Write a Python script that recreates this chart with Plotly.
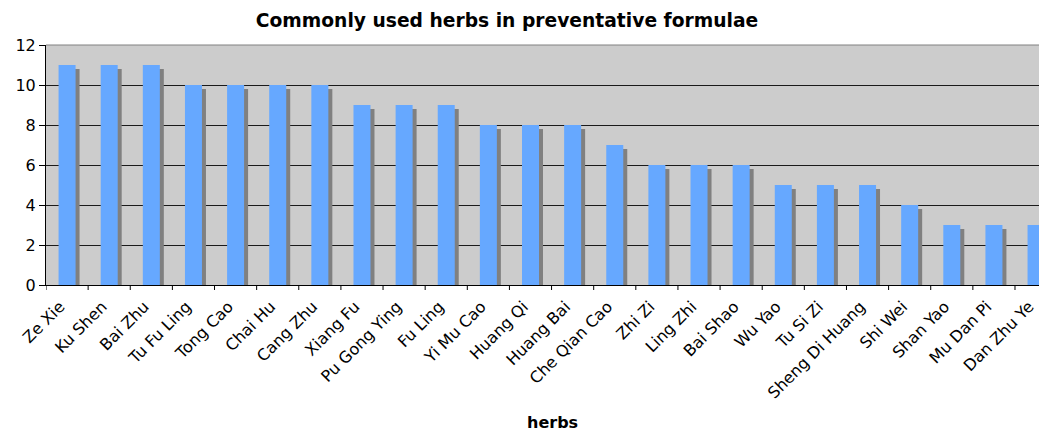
import plotly.graph_objects as go

herbs = ["Ze Xie", "Ku Shen", "Bai Zhu", "Tu Fu Ling", "Tong Cao", "Chai Hu", "Cang Zhu",
         "Xiang Fu", "Pu Gong Ying", "Fu Ling", "Yi Mu Cao", "Huang Qi", "Huang Bai",
         "Che Qian Cao", "Zhi Zi", "Ling Zhi", "Bai Shao", "Wu Yao", "Tu Si Zi",
         "Sheng Di Huang", "Shi Wei", "Shan Yao", "Mu Dan Pi", "Dan Zhu Ye"]
counts = [11, 11, 11, 10, 10, 10, 10, 9, 9, 9, 8, 8, 8, 7, 6, 6, 6, 5, 5, 5, 4, 3, 3, 3]
y_ticks = [0, 2, 4, 6, 8, 10, 12]

FONT = "Verdana, DejaVu Sans, sans-serif"
# page has an 8px body margin; size the figure so the plot lands where the reference has it
W, H = 1039, 425
L, T, B = 38, 37, 148
PH = H - T - B
cat_px = 42.13
bw = 17.0 / cat_px
dx = 4.0 / cat_px
dy = 0.2

x_idx = list(range(len(herbs)))
shadow = [v - dy for v in counts]

fig = go.Figure()
fig.add_trace(go.Bar(x=x_idx, y=shadow, width=bw, offset=-bw / 2 + dx,
                     marker=dict(color="#808080", line=dict(width=0)),
                     hoverinfo="skip", showlegend=False))
fig.add_trace(go.Bar(x=x_idx, y=counts, width=bw, offset=-bw / 2,
                     marker=dict(color="#66A8FF", line=dict(width=0)),
                     showlegend=False))

x_max = -0.5 + (W - L) / cat_px

fig.update_layout(
    width=W, height=H,
    margin=dict(l=L, r=0, t=T, b=B, pad=0),
    paper_bgcolor="white", plot_bgcolor="#CCCCCC",
    barmode="overlay",
    font=dict(family=FONT, color="black", size=16),
    title=dict(text="<b>Commonly used herbs in preventative formulae</b>",
               x=499 / W, xanchor="center", y=1 - 12 / H, yanchor="middle",
               font=dict(family=FONT, size=18.7, color="black")),
    xaxis=dict(range=[-0.5, x_max], tickmode="array", tickvals=x_idx, ticktext=herbs,
               tickangle=-45, showgrid=False, zeroline=False,
               showline=True, linecolor="black", linewidth=1,
               ticks="", ticklabelstandoff=5, ticklabelshift=-7,
               tickfont=dict(family=FONT, size=16)),
    yaxis=dict(range=[0, 12], tickmode="array", tickvals=y_ticks,
               showgrid=True, gridcolor="#1a1a1a", gridwidth=1, zeroline=False,
               showline=True, linecolor="black", linewidth=1,
               ticks="outside", ticklen=6, tickcolor="black",
               tickfont=dict(family=FONT, size=16)),
)

# x axis title
fig.add_annotation(text="<b>herbs</b>", xref="paper", yref="paper",
                   x=(544 - L) / (W - L), y=-(414 - (T + PH)) / PH,
                   xanchor="center", yanchor="middle", showarrow=False,
                   font=dict(family=FONT, size=16, color="black"))

# x tick marks at category boundaries
for i in range(len(herbs) + 1):
    xb = i - 0.5
    if xb > x_max:
        break
    fig.add_shape(type="line", xref="x", yref="paper", x0=xb, x1=xb, y0=0, y1=-5 / PH,
                  line=dict(color="black", width=1))

# top border of plot area
fig.add_shape(type="line", xref="paper", yref="paper", x0=0, x1=1, y0=1, y1=1,
              line=dict(color="#808080", width=1))

fig.write_html("out.html")
